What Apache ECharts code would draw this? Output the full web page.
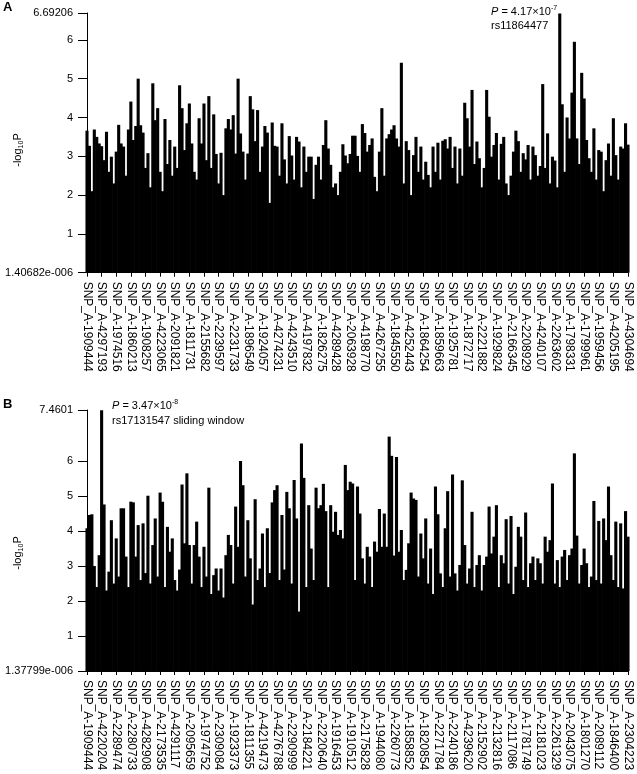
<!DOCTYPE html>
<html><head><meta charset="utf-8">
<script src="https://cdn.jsdelivr.net/npm/echarts@6/dist/echarts.min.js"></script>
<style>html,body{margin:0;padding:0;background:#fff}#c{width:637px;height:774px}</style>
</head><body><div id="c"></div>
<script>
// ---- tick labels (SNP names, one every 6 bars) ----
const snpLabelsA = ['SNP_A-1909444','SNP_A-4297193','SNP_A-1974516','SNP_A-1860213','SNP_A-1908257','SNP_A-4223065','SNP_A-2091821','SNP_A-1811731','SNP_A-2155682','SNP_A-2239597','SNP_A-2231733','SNP_A-1896549','SNP_A-1924057','SNP_A-4274231','SNP_A-4243510','SNP_A-4197832','SNP_A-1826275','SNP_A-4289428','SNP_A-2063928','SNP_A-4198770','SNP_A-4267255','SNP_A-1845550','SNP_A-4252443','SNP_A-1864254','SNP_A-1859663','SNP_A-1925781','SNP_A-1872717','SNP_A-2221882','SNP_A-1929824','SNP_A-2166345','SNP_A-2208929','SNP_A-4240107','SNP_A-2263602','SNP_A-1798331','SNP_A-1799961','SNP_A-1959456','SNP_A-4205195','SNP_A-4304694'];
const snpLabelsB = ['SNP_A-1909444','SNP_A-4220204','SNP_A-2289474','SNP_A-2280733','SNP_A-4282908','SNP_A-2173535','SNP_A-4291117','SNP_A-2095659','SNP_A-1974752','SNP_A-2309084','SNP_A-1923373','SNP_A-1811355','SNP_A-4219473','SNP_A-4276788','SNP_A-2290999','SNP_A-2184221','SNP_A-2220640','SNP_A-1916453','SNP_A-1910512','SNP_A-2175828','SNP_A-1944080','SNP_A-2260773','SNP_A-1858852','SNP_A-1820854','SNP_A-2271784','SNP_A-2240186','SNP_A-4239620','SNP_A-2152902','SNP_A-2132816','SNP_A-2117086','SNP_A-1781749','SNP_A-2181023','SNP_A-2261329','SNP_A-2043075','SNP_A-1801270','SNP_A-2089112','SNP_A-1846400','SNP_A-2304223'];
const labelStep = 6;

// ---- -log10 P values ----
const valuesA = [
3.66,3.27,2.1,3.69,3.5,3.33,3.26,2.9,3.63,2.6,
2.99,2.3,3.12,3.81,3.33,3.25,2.5,3.69,4.41,3.42,
3.78,5.0,3.8,3.61,2.7,3.08,2.2,4.88,3.93,4.24,
2.6,2.1,3.96,2.8,3.42,2.5,3.25,2.7,4.83,4.24,
3.16,3.85,4.36,3.33,2.6,2.4,3.98,3.33,4.36,2.9,
4.55,2.7,4.08,3.06,2.3,3.09,2.0,3.72,3.96,3.69,
4.06,3.07,5.0,3.59,3.12,2.4,3.07,4.55,4.21,3.39,
4.19,2.6,3.25,3.78,3.61,1.8,3.87,3.27,3.25,2.5,
3.85,2.92,2.3,3.52,3.02,2.4,3.5,3.38,2.2,3.25,
2.6,2.99,2.99,1.9,2.78,2.99,2.4,3.29,3.93,3.2,
2.78,2.2,2.3,2.0,2.6,3.31,3.02,2.82,3.06,3.53,
3.53,3.01,2.6,3.83,3.6,3.12,3.29,3.46,2.47,2.1,
3.12,4.24,2.5,3.46,3.57,3.69,3.8,3.46,3.25,5.41,
2.3,3.39,3.16,2.0,3.03,3.5,2.6,3.25,2.4,2.86,
2.52,2.2,3.25,2.6,3.35,2.4,3.4,3.44,3.2,3.5,
2.7,3.25,2.3,3.2,2.5,4.38,3.98,3.25,4.71,2.8,
3.38,2.95,2.2,2.7,4.71,4.02,2.99,3.29,3.6,2.4,
3.32,3.5,2.3,2.0,2.5,3.12,3.66,3.39,2.6,3.08,
2.92,3.29,2.4,3.25,3.03,2.5,2.75,4.86,2.7,3.59,
2.3,2.99,2.89,2.2,6.68,4.34,2.6,4.0,3.46,4.64,
5.95,3.46,2.8,5.15,4.49,3.42,2.95,2.6,3.72,2.4,
3.16,3.12,2.1,2.9,3.33,2.5,3.98,3.03,2.4,3.25,
3.2,3.85,3.3];
const valuesB = [
4.08,4.46,4.48,3.0,2.4,3.31,7.45,4.76,2.3,2.84,
4.31,2.5,3.79,2.7,4.65,4.65,3.27,2.4,4.84,4.82,
3.27,4.17,2.6,4.22,2.8,5.01,2.5,3.6,4.36,2.7,
5.1,4.84,2.4,4.12,3.41,3.79,2.6,2.3,2.9,5.33,
3.65,5.65,3.6,2.5,3.6,4.27,3.27,2.4,3.55,2.7,
5.24,2.2,2.74,2.93,2.3,2.93,2.1,3.31,3.89,3.6,
2.5,4.7,3.55,6.0,5.31,2.7,4.31,3.22,1.9,4.91,
2.6,2.93,3.93,2.4,4.08,2.8,4.82,5.17,5.31,2.6,
4.46,2.9,5.12,4.65,2.5,5.46,4.36,1.7,6.5,5.52,
2.4,4.74,3.5,2.6,5.24,4.65,4.74,5.35,4.57,2.4,
4.74,3.98,4.55,3.89,4.03,3.79,5.89,5.17,5.41,5.36,
2.6,5.27,4.5,3.22,2.5,3.55,3.27,2.4,3.7,3.41,
4.63,3.55,4.5,3.55,6.7,6.15,3.3,6.12,3.41,4.03,
2.6,2.89,3.65,5.1,4.93,4.89,2.7,3.93,3.22,4.36,
2.5,3.5,2.2,5.27,4.48,2.79,2.4,4.08,5.14,2.7,
5.62,2.79,2.3,3.03,5.45,3.6,2.5,2.93,4.55,2.4,
3.03,3.31,2.3,3.03,3.27,4.7,3.36,3.84,4.74,2.4,
3.31,3.08,4.34,2.5,4.43,2.2,2.98,4.12,3.84,2.6,
4.53,2.4,3.08,3.27,2.6,3.22,3.08,2.5,3.84,3.41,
3.74,5.36,2.5,3.17,2.4,3.27,3.46,2.6,3.31,3.5,
6.22,3.87,2.5,3.03,3.5,3.08,2.4,2.7,4.86,2.6,
4.29,2.5,4.36,3.74,5.27,3.31,2.6,4.27,2.4,4.22,
2.36,4.57,3.84];

// ---- y axis extents and tick labels ----
const yMaxA = 6.69206, yMinLabelA = '1.40682e-006';
const yMaxB = 7.4601,  yMinLabelB = '1.37799e-006';
const yTicksA = [0,1,2,3,4,5,6,6.69206];
const yTicksB = [0,1,2,3,4,5,6,7.4601];

function cats(labels, n){
  const out = [];
  for (let i = 0; i < n; i++) out.push(i % labelStep === 0 ? labels[i / labelStep] : '');
  return out;
}
const FONT = '"Liberation Sans", Arial, Helvetica, sans-serif';
function yAxis(gi, maxV, minLabel, ticks){
  return {
    type:'value', gridIndex:gi, min:0, max:maxV,
    splitLine:{show:false},
    axisLine:{show:true, lineStyle:{color:'#000', width:1}},
    axisTick:{show:true, length:9, lineStyle:{color:'#000'}, customValues: ticks},
    axisLabel:{color:'#000', fontFamily:FONT, fontSize:11, margin:14, showMaxLabel:true, showMinLabel:true,
      customValues: ticks,
      formatter: v => v < 1e-9 ? minLabel : (Math.abs(v - maxV) < 1e-6 ? String(maxV) : String(Math.round(v)))}
  };
}
function xAxis(gi, labels, n){
  return {
    type:'category', gridIndex:gi, data: cats(labels, n), boundaryGap:false,
    axisLine:{show:true, onZero:false, lineStyle:{color:'#000', width:1}},
    axisTick:{show:true, interval: labelStep-1, length:4, lineStyle:{color:'#000'}},
    axisLabel:{interval: labelStep-1, rotate:-90, color:'#000', fontFamily:FONT, fontSize:12, margin:9}
  };
}
function bars(gi, vals){
  return {type:'bar', xAxisIndex:gi, yAxisIndex:gi, data: vals, barWidth:3.1, barGap:'0%',
    itemStyle:{color:'#000'}, clip:true, silent:true, animation:false};
}
const chart = echarts.init(document.getElementById('c'), null, {renderer:'canvas'});
const supRich = {
  i:{fontStyle:'italic', fontFamily:FONT, fontSize:11, lineHeight:14},
  n:{fontFamily:FONT, fontSize:11, lineHeight:14},
  sup:{fontFamily:FONT, fontSize:7, verticalAlign:'top', lineHeight:14, padding:[0,0,6,0]}
};
const subRich = {
  n:{fontFamily:FONT, fontSize:11, lineHeight:14},
  sub:{fontFamily:FONT, fontSize:7, lineHeight:14, padding:[6,0,0,0]}
};
chart.setOption({
  animation:false,
  backgroundColor:'#fff',
  grid:[
    {left:87, top:13, width:541, height:259.7},
    {left:87, top:410, width:541, height:261}
  ],
  xAxis:[xAxis(0, snpLabelsA, valuesA.length), xAxis(1, snpLabelsB, valuesB.length)],
  yAxis:[yAxis(0, yMaxA, yMinLabelA, yTicksA), yAxis(1, yMaxB, yMinLabelB, yTicksB)],
  series:[bars(0, valuesA), bars(1, valuesB)],
  graphic:[
    {type:'text', left:3, top:1, style:{text:'A', font:'bold 13px '+FONT, fill:'#000'}},
    {type:'text', left:3, top:398, style:{text:'B', font:'bold 13px '+FONT, fill:'#000'}},
    {type:'text', x:18, y:150, rotation:Math.PI/2, style:{text:'{n|-log}{sub|10}{n|P}', rich:subRich, align:'center', verticalAlign:'middle', fill:'#000'}},
    {type:'text', x:18, y:553, rotation:Math.PI/2, style:{text:'{n|-log}{sub|10}{n|P}', rich:subRich, align:'center', verticalAlign:'middle', fill:'#000'}},
    {type:'text', x:491, y:5, style:{text:'{i|P}{n| = 4.17×10}{sup|-7}', rich:supRich, fill:'#000'}},
    {type:'text', x:491, y:20, style:{text:'rs11864477', font:'11px '+FONT, fill:'#000'}},
    {type:'text', x:112, y:399, style:{text:'{i|P}{n| = 3.47×10}{sup|-8}', rich:supRich, fill:'#000'}},
    {type:'text', x:112, y:415, style:{text:'rs17131547 sliding window', font:'11px '+FONT, fill:'#000'}}
  ]
});
</script></body></html>
